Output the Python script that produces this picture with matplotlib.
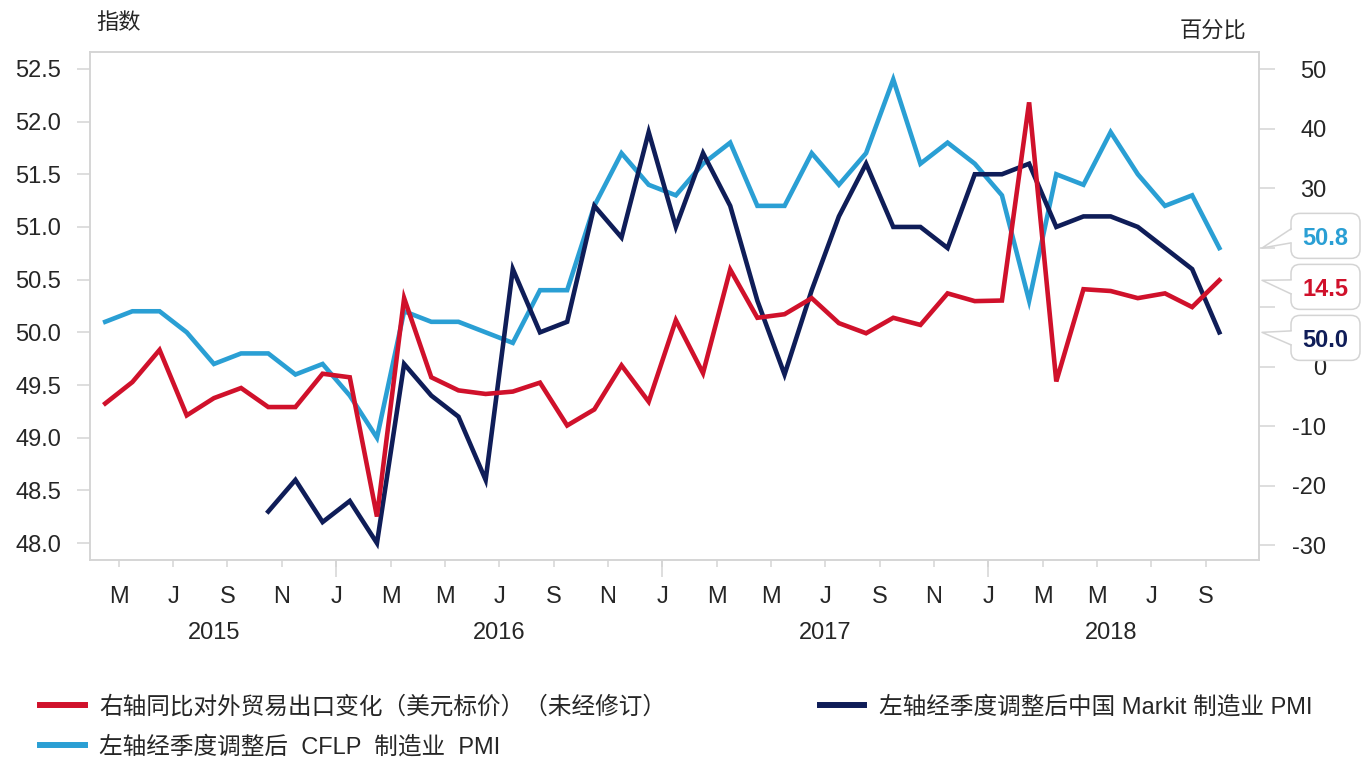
import matplotlib.pyplot as plt
import matplotlib.patches as mpatches
import matplotlib.transforms as mtransforms
from matplotlib.lines import Line2D
from matplotlib.ticker import FormatStrFormatter
import numpy as np

plt.rcParams['font.family'] = ['Liberation Sans', 'Noto Sans CJK SC']
plt.rcParams['axes.unicode_minus'] = False

# months are counted from Jan 2015 = 0
first_month = 3           # Apr 2015
markit_first_month = 9    # Oct 2015

# official (CFLP) manufacturing PMI, Apr 2015 - Sep 2018
cflp_pmi = [50.1, 50.2, 50.2, 50.0, 49.7, 49.8, 49.8, 49.6, 49.7,
            49.4, 49.0, 50.2, 50.1, 50.1, 50.0, 49.9, 50.4, 50.4, 51.2, 51.7, 51.4,
            51.3, 51.6, 51.8, 51.2, 51.2, 51.7, 51.4, 51.7, 52.4, 51.6, 51.8, 51.6,
            51.3, 50.3, 51.5, 51.4, 51.9, 51.5, 51.2, 51.3, 50.8]

# Markit manufacturing PMI, Oct 2015 - Sep 2018
markit_pmi = [48.3, 48.6, 48.2,
              48.4, 48.0, 49.7, 49.4, 49.2, 48.6, 50.6, 50.0, 50.1, 51.2, 50.9, 51.9,
              51.0, 51.7, 51.2, 50.3, 49.6, 50.4, 51.1, 51.6, 51.0, 51.0, 50.8, 51.5,
              51.5, 51.6, 51.0, 51.1, 51.1, 51.0, 50.8, 50.6, 50.0]

# exports, % yoy in USD, Apr 2015 - Sep 2018
exports_yoy = [-6.2, -2.6, 2.8, -8.2, -5.3, -3.6, -6.8, -6.8, -1.2,
               -1.8, -25.2, 11.5, -1.8, -4.0, -4.6, -4.2, -2.7, -9.9, -7.2, 0.2, -5.9,
               7.8, -1.1, 16.3, 8.2, 8.8, 11.5, 7.3, 5.6, 8.2, 7.0, 12.3, 11.0,
               11.1, 44.4, -2.5, 13.0, 12.7, 11.5, 12.3, 10.0, 14.5]

tick_months = list(range(4, 45, 2))   # May 2015 .. Sep 2018
tick_labels = ['M', 'J', 'S', 'N',
               'J', 'M', 'M', 'J', 'S', 'N',
               'J', 'M', 'M', 'J', 'S', 'N',
               'J', 'M', 'M', 'J', 'S']
jan_months = [12, 24, 36]
year_labels = ['2015', '2016', '2017', '2018']
year_first = [3, 12, 24, 36]
year_last = [11, 23, 35, 44]

legend_labels = ['右轴同比对外贸易出口变化（美元标价）（未经修订）',
                 '左轴经季度调整后  CFLP  制造业  PMI',
                 '左轴经季度调整后中国 Markit 制造业 PMI']

RED = '#d0112b'
CYAN = '#2a9fd4'
NAVY = '#0f1d58'
GREY = '#d4d4d4'
TEXT = '#262626'
LW = 3.3

W, H = 1369, 760
fig = plt.figure(figsize=(W / 100, H / 100), dpi=100)
ax = fig.add_axes([90 / W, 1 - 560 / H, (1259 - 90) / W, (560 - 52) / H])
ax2 = ax.twinx()

x_cflp = np.arange(first_month, first_month + len(cflp_pmi))
x_markit = np.arange(markit_first_month, markit_first_month + len(markit_pmi))
x_exp = np.arange(first_month, first_month + len(exports_yoy))

ax.plot(x_cflp, cflp_pmi, color=CYAN, lw=LW, solid_joinstyle='miter')
ax.plot(x_markit, markit_pmi, color=NAVY, lw=LW, solid_joinstyle='miter')
ax2.plot(x_exp, exports_yoy, color=RED, lw=LW, solid_joinstyle='miter')

ax.set_xlim(2.44, 45.46)
ax.set_ylim(47.84, 52.66)
ax2.set_ylim(-32.5, 52.86)

ax.set_yticks(np.arange(48, 52.51, 0.5))
ax.yaxis.set_major_formatter(FormatStrFormatter('%.1f'))
right_ticks = list(range(-30, 51, 10))
ax2.set_yticks(right_ticks)

# month ticks sit on month starts, the longer ones mark new years
ax.set_xticks([m - 0.5 for m in tick_months])
ax.set_xticklabels(tick_labels)
ax.set_xticks([m - 0.5 for m in jan_months], minor=True)
ax.xaxis.remove_overlapping_locs = False

ax.tick_params(axis='x', which='major', length=5, width=1.1, color=GREY,
               pad=14, labelsize=17, labelcolor=TEXT)
ax.tick_params(axis='x', which='minor', length=12, width=1.1, color=GREY)
ax.tick_params(axis='y', length=9.4, width=1.1, color=GREY, pad=11.5,
               labelsize=17, labelcolor=TEXT)
ax2.tick_params(axis='y', length=11.5, width=1.1, color=GREY, pad=37,
                labelsize=17, labelcolor=TEXT)
for t in ax2.get_yticklabels():
    t.set_horizontalalignment('right')

for a in (ax, ax2):
    for s in a.spines.values():
        s.set_color(GREY)
        s.set_linewidth(1.1)

for label, a, b in zip(year_labels, year_first, year_last):
    ax.annotate(label, xy=((a + b) / 2, 0), xycoords=('data', 'axes fraction'),
                xytext=(0, -73), textcoords='offset pixels',
                ha='center', va='center', fontsize=17, color=TEXT)

fig.text(119 / W, 1 - 23 / H, '指数', ha='center', va='center', fontsize=16, color=TEXT)
fig.text(1213 / W, 1 - 31 / H, '百分比', ha='center', va='center', fontsize=16, color=TEXT)


# value callouts at the right edge
def spread(ys, gap):
    ys = list(ys)
    order = np.argsort(ys)
    for _ in range(60):
        for i, j in zip(order[:-1], order[1:]):
            d = ys[j] - ys[i]
            if d < gap:
                ys[i] -= (gap - d) / 2
                ys[j] += (gap - d) / 2
    return ys


last = [(ax, cflp_pmi[-1], CYAN), (ax2, exports_yoy[-1], RED), (ax, markit_pmi[-1], NAVY)]
tips = [a.transData.transform((0, v))[1] for a, v, _ in last]
boxes = spread(tips, 51)
ident = mtransforms.IdentityTransform()
tip_x = ax.transAxes.transform((1, 0))[0] + 3
bx, bw, bh = 1291, 69, 45
for (a, v, c), yt, yb in zip(last, tips, boxes):
    fig.add_artist(mpatches.FancyBboxPatch((bx, yb - bh / 2), bw, bh,
                                           boxstyle='round,pad=0,rounding_size=9',
                                           transform=ident, fc='white', ec=GREY, lw=1.1))
    fig.add_artist(mpatches.Polygon([(tip_x, yt), (bx + 2, yb + 7), (bx + 2, yb - 7)],
                                    closed=True, transform=ident, fc='white', ec='none'))
    fig.add_artist(Line2D([bx, tip_x, bx], [yb + 7, yt, yb - 7], transform=ident,
                          color=GREY, lw=1.1))
    fig.text(bx + bw / 2, yb, f'{v:.1f}', transform=ident, ha='center',
             va='center_baseline', fontsize=17, fontweight='bold', color=c)

# right-hand labels that sit under a callout box are not shown
for tick, val in zip(ax2.yaxis.get_major_ticks(), right_ticks):
    y = ax2.transData.transform((0, val))[1]
    if any(abs(y - yb) < bh / 2 + 2 for yb in boxes):
        tick.label2.set_visible(False)

handles = [Line2D([], [], color=RED, lw=4.3),
           Line2D([], [], color=CYAN, lw=4.3),
           Line2D([], [], color=NAVY, lw=4.3)]
fig.legend(handles, legend_labels, ncol=2, loc='upper left',
           bbox_to_anchor=(40 / W, 1 - 696 / H), frameon=False, fontsize=17,
           handlelength=1.9, handletextpad=0.6, columnspacing=6.5,
           labelspacing=0.72, borderpad=0, borderaxespad=0, labelcolor=TEXT)

fig.savefig('out.png', dpi=100)
